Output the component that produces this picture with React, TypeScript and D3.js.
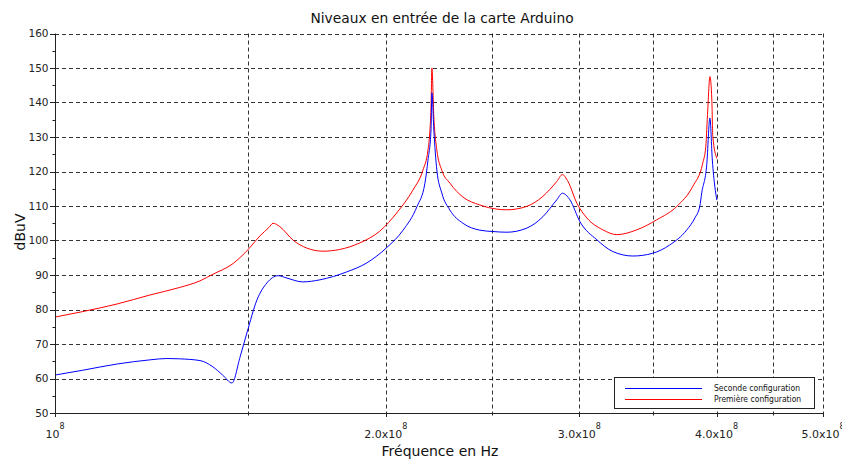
import React from "react";
import * as d3 from "d3";

// Frequencies in units of 1e8 Hz, levels in dBuV
const redFreq = [1.0, 1.06, 1.139, 1.22, 1.299, 1.355, 1.392, 1.452, 1.501, 1.537, 1.566, 1.579, 1.602, 1.647, 1.695, 1.753, 1.816, 1.894, 1.975, 2.05, 2.117, 2.162, 2.185, 2.194, 2.199, 2.203, 2.212, 2.226, 2.249, 2.288, 2.351, 2.436, 2.524, 2.578, 2.688, 2.78, 2.862, 2.896, 2.93, 2.985, 3.049, 3.152, 3.246, 3.385, 3.529, 3.681, 3.806, 3.886, 3.911, 3.927, 3.945, 3.961, 3.969, 4.003];
const redLevel = [77.8, 79.4, 81.6, 84.2, 86.4, 88.3, 90.2, 93.3, 97.6, 101.4, 103.8, 105.0, 104.0, 100.1, 97.8, 96.9, 97.4, 99.3, 102.7, 108.3, 114.6, 120.4, 126.2, 132.0, 138.7, 150.0, 135.8, 126.2, 120.4, 116.6, 112.6, 110.3, 109.1, 108.9, 109.9, 112.8, 117.1, 119.1, 117.1, 110.8, 106.5, 103.1, 101.7, 103.1, 106.0, 109.9, 115.7, 122.4, 127.2, 137.8, 147.5, 140.7, 130.1, 123.8];

const blueFreq = [1.0, 1.06, 1.139, 1.22, 1.264, 1.299, 1.355, 1.392, 1.421, 1.449, 1.474, 1.495, 1.527, 1.559, 1.596, 1.626, 1.681, 1.742, 1.843, 1.922, 2.005, 2.074, 2.135, 2.171, 2.185, 2.199, 2.203, 2.212, 2.226, 2.249, 2.288, 2.351, 2.436, 2.503, 2.578, 2.688, 2.78, 2.862, 2.896, 2.942, 3.004, 3.113, 3.219, 3.357, 3.499, 3.626, 3.759, 3.822, 3.862, 3.878, 3.919, 3.945, 3.965, 3.986, 4.003];
const blueLevel = [61.0, 62.4, 64.2, 65.4, 65.8, 65.7, 65.2, 63.4, 61.0, 58.7, 66.3, 73.2, 82.8, 87.7, 89.8, 89.1, 88.0, 88.6, 90.9, 93.5, 98.0, 103.0, 109.8, 116.6, 123.3, 132.0, 142.8, 132.0, 120.4, 113.8, 108.8, 105.0, 103.0, 102.6, 102.4, 103.6, 106.9, 111.8, 113.7, 111.8, 105.5, 100.2, 96.8, 95.5, 96.3, 98.7, 103.1, 106.5, 109.9, 113.8, 122.0, 135.5, 123.3, 115.6, 111.7];

const yTicks = [50, 60, 70, 80, 90, 100, 110, 120, 130, 140, 150, 160];
const yMinorTicks = [55, 65, 75, 85, 95, 105, 115, 125, 135, 145, 155];
const xMajor = [1, 2, 3, 4, 5];
const xMajorLabels = ["10", "2.0x10", "3.0x10", "4.0x10", "5.0x10"];
const xGrid = [1.5, 2, 2.5, 3, 3.5, 4, 4.5, 5];
const xMinor = [1.5, 2.5, 3.5, 4.5];

const title = "Niveaux en entrée de la carte Arduino";
const xTitle = "Fréquence en Hz";
const yTitle = "dBuV";
const seriesNames = ["Seconde configuration", "Première configuration"];
const seriesColors = ["#0000ff", "#ff0000"];

const W = 842, H = 459;
const L = 55, R = 823, T = 33.5, B = 413;

export default function App() {
  const x = d3.scaleLog().domain([1e8, 5e8]).range([L, R]);
  const y = d3.scaleLinear().domain([50, 160]).range([B, T]);
  const line = d3
    .line<[number, number]>()
    .x((d) => x(d[0] * 1e8))
    .y((d) => y(d[1]))
    .curve(d3.curveMonotoneX);
  const red = redFreq.map((f, i) => [f, redLevel[i]] as [number, number]);
  const blue = blueFreq.map((f, i) => [f, blueLevel[i]] as [number, number]);
  const font = "'DejaVu Sans', sans-serif";
  const axisColor = "#222";
  return (
    <svg width={W} height={H} style={{ position: "absolute", left: 0, top: 0, background: "#fff" }} fontFamily={font}>
      <rect x={0} y={0} width={W} height={H} fill="#fff" />
      {/* horizontal grid */}
      {yTicks.filter((t) => t > 50).map((t) => (
        <line key={"gy" + t} x1={L} x2={R} y1={Math.round(y(t)) + 0.5} y2={Math.round(y(t)) + 0.5} stroke="#000" strokeOpacity={0.8} strokeDasharray="4,3" />
      ))}
      {/* vertical grid */}
      {xGrid.map((t) => (
        <line key={"gx" + t} x1={Math.round(x(t * 1e8)) + 0.5} x2={Math.round(x(t * 1e8)) + 0.5} y1={T} y2={B} stroke="#000" strokeOpacity={0.8} strokeDasharray="4,3" />
      ))}
      {/* series */}
      <path d={line(red) || ""} fill="none" stroke={seriesColors[1]} strokeWidth={1} />
      <path d={line(blue) || ""} fill="none" stroke={seriesColors[0]} strokeWidth={1} />
      {/* axes */}
      <line x1={L + 0.5} x2={L + 0.5} y1={T} y2={B + 4} stroke={axisColor} />
      <line x1={L - 5} x2={R + 0.5} y1={B + 0.5} y2={B + 0.5} stroke={axisColor} />
      {yTicks.map((t) => (
        <g key={"yt" + t}>
          <line x1={L - 5} x2={L} y1={Math.round(y(t)) + 0.5} y2={Math.round(y(t)) + 0.5} stroke={axisColor} />
          <text x={L - 6.5} y={y(t)} dy="0.35em" textAnchor="end" fontSize={10.5} fill="#222">{t}</text>
        </g>
      ))}
      {yMinorTicks.map((t) => (
        <line key={"ym" + t} x1={L - 2.5} x2={L} y1={Math.round(y(t)) + 0.5} y2={Math.round(y(t)) + 0.5} stroke={axisColor} />
      ))}
      {xMajor.map((t, i) => (
        <g key={"xt" + t}>
          <line x1={Math.round(x(t * 1e8)) + 0.5} x2={Math.round(x(t * 1e8)) + 0.5} y1={B} y2={B + 4} stroke={axisColor} />
          <text x={x(t * 1e8)} y={438} textAnchor="middle" fontSize={11} fill="#222">
            <tspan>{xMajorLabels[i]}</tspan>
            <tspan dy={-9} fontSize={8}>8</tspan>
          </text>
        </g>
      ))}
      {xMinor.map((t) => (
        <line key={"xm" + t} x1={Math.round(x(t * 1e8)) + 0.5} x2={Math.round(x(t * 1e8)) + 0.5} y1={B} y2={B + 2.5} stroke={axisColor} />
      ))}
      {/* titles */}
      <text x={442} y={23} textAnchor="middle" fontSize={13.8} fill="#111">{title}</text>
      <text x={440} y={456} textAnchor="middle" fontSize={14} fill="#111">{xTitle}</text>
      <text transform="translate(25,232) rotate(-90)" textAnchor="middle" fontSize={14} fill="#111">{yTitle}</text>
      {/* legend */}
      <rect x={614.5} y={377.5} width={200} height={31} fill="#fff" stroke="#222" />
      {seriesNames.map((n, i) => (
        <g key={n}>
          <line x1={625} x2={702} y1={388.5 + i * 11} y2={388.5 + i * 11} stroke={seriesColors[i]} />
          <text x={714} y={388 + i * 11} dy="0.35em" fontSize={8.5} fontFamily="'DejaVu Sans Condensed', 'DejaVu Sans', sans-serif" style={{ fontStretch: "condensed" }} fill="#111">{n}</text>
        </g>
      ))}
    </svg>
  );
}
